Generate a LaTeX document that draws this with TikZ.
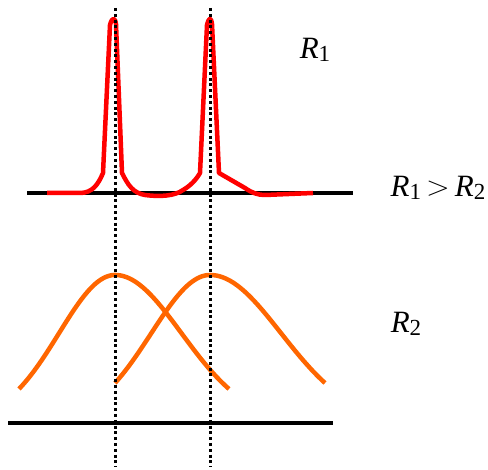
\documentclass[tikz,border=0pt]{standalone}
\usepackage{fontspec}
\setmainfont{Liberation Serif}
\newcommand{\Rsub}[1]{\textit{R}\raisebox{-0.1em}{\fontsize{23pt}{23pt}\selectfont #1}}
\begin{document}
\begin{tikzpicture}[x=1pt,y=-1pt,
  base/.style={line width=4pt,black},
  guide/.style={line width=3pt,black,dash pattern=on 3pt off 2.8pt},
  sharp/.style={line width=4.5pt,red,line join=round},
  broad/.style={line width=4.5pt,color={rgb,255:red,255;green,102;blue,0}},
  lab/.style={font=\fontsize{31pt}{31pt}\selectfont,inner sep=0pt}]
\useasboundingbox (0,0) rectangle (488,470);
% baselines
\draw[base] (27,193) -- (353,193);
\draw[base] (8,423) -- (333,423);
% red sharp peaks
\draw[sharp] (47,193) -- (80,193) .. controls (92,193) and (98,185) .. (103,173) -- (110,25)
  .. controls (112,17) and (115,17) .. (116,24) -- (122,173)
  .. controls (128,185) and (133,193) .. (145,195)
  .. controls (160,197) and (175,196) .. (183,190)
  .. controls (190,186) and (196,180) .. (200,173) -- (207,25)
  .. controls (209,17) and (211,17) .. (212,24) -- (219,173) -- (245,188)
  .. controls (252,193) and (258,195) .. (265,195) -- (313,193);
% orange broad peaks
\draw[broad,domain=19:229,samples=120] plot (\x,{423-148*exp(-((\x-115)^2)/(\x<115 ? 6270 : 8841))});
\draw[broad,domain=115:325,samples=120] plot (\x,{423-148*exp(-((\x-210)^2)/(\x<210 ? 6894 : 10103))});
% dotted guides
\draw[guide] (115,8) -- (115,467);
\draw[guide] (210,8) -- (210,467);
% labels
\node[lab] (r1) at (315,50) {\Rsub{1}};
\node[lab] (r12) at (438,188) {\Rsub{1}\hspace{5pt}\raisebox{1pt}{\scalebox{1.25}[1.1]{$>$}}\hspace{5pt}\Rsub{2}};
\node[lab] (r2) at (406,324) {\Rsub{2}};
\end{tikzpicture}
\end{document}
